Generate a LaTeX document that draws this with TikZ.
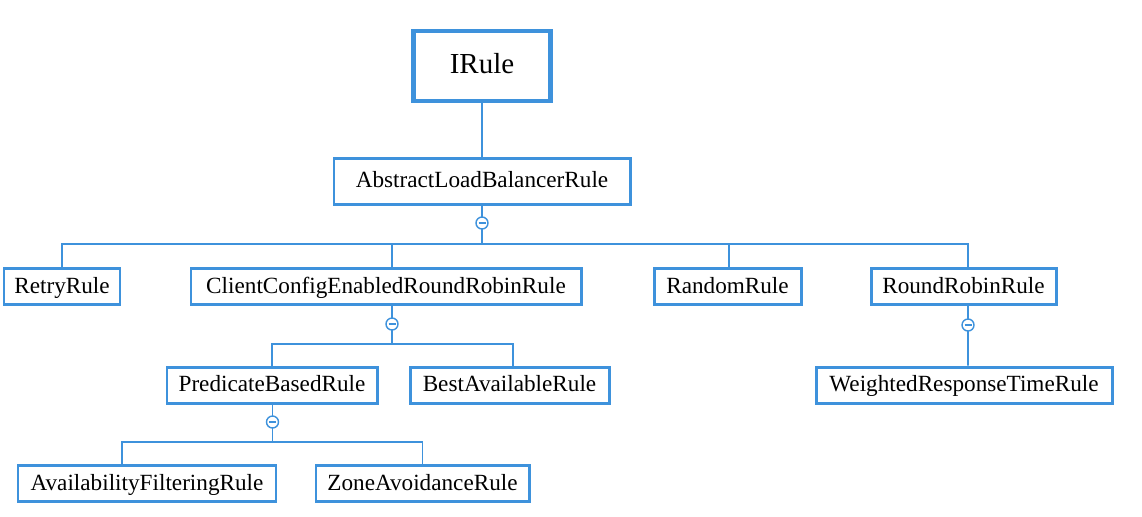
\documentclass[tikz,border=0pt]{standalone}
\usepackage{fontspec}
\setmainfont{Liberation Serif}
\definecolor{ruleblue}{RGB}{62,146,220}

\begin{document}
\begin{tikzpicture}[inner sep=0mm,
  rule/.style={rectangle,draw=ruleblue,line width=1.7pt,fill=white,minimum height=0.72cm,text height=9pt,text depth=1.5pt,font=\fontsize{13.2}{15}\selectfont},
  link/.style={draw=ruleblue,line width=1.1pt},
  fold/.style={circle,draw=ruleblue,fill=white,line width=0.8pt,minimum size=0.24cm,
    path picture={\draw[ruleblue,line width=0.7pt] ([xshift=-0.7mm]path picture bounding box.center) -- ([xshift=0.7mm]path picture bounding box.center);}}]

\useasboundingbox (0,0) rectangle (22.84,-10.32);

\node[rule,line width=2.3pt,minimum width=2.74cm,minimum height=1.4cm,text height=11pt,text depth=2pt,font=\fontsize{16.5}{19}\selectfont] (IR) at (9.64,-1.32) {IRule};
\node[rule,minimum width=5.92cm,minimum height=0.92cm] (ALBR) at (9.64,-3.62) {AbstractLoadBalancerRule};

\node[rule,minimum width=2.32cm] (RTR) at (1.24,-5.73) {RetryRule};
\node[rule,minimum width=7.8cm] (CC) at (7.72,-5.73) {ClientConfigEnabledRoundRobinRule};
\node[rule,minimum width=2.94cm] (RDR) at (14.55,-5.73) {RandomRule};
\node[rule,minimum width=3.7cm] (RoR) at (19.27,-5.73) {RoundRobinRule};

\node[rule,minimum width=4.2cm] (PBR) at (5.44,-7.70) {PredicateBasedRule};
\node[rule,minimum width=3.98cm] (BAR) at (10.19,-7.70) {BestAvailableRule};
\node[rule,minimum width=5.92cm] (WRT) at (19.28,-7.70) {WeightedResponseTimeRule};

\node[rule,minimum width=5.16cm] (AFR) at (2.94,-9.67) {AvailabilityFilteringRule};
\node[rule,minimum width=4.26cm] (ZAR) at (8.45,-9.67) {ZoneAvoidanceRule};

\coordinate (j1) at (9.64,-4.88);
\coordinate (j2) at (7.84,-6.88);
\coordinate (j3) at (5.45,-8.84);

% links
\draw[link] (IR.south) -- (ALBR.north);
\draw[link] (ALBR.south) -- (j1);
\draw[link] (j1) -| (RTR.north);
\draw[link] (j1) -| ([xshift=0.12cm]CC.north);
\draw[link] (j1) -| ([xshift=0.03cm]RDR.north);
\draw[link] (j1) -| ([xshift=0.09cm]RoR.north);

\draw[link] ([xshift=0.12cm]CC.south) -- (j2);
\draw[link] (j2) -| (PBR.north);
\draw[link] (j2) -| ([xshift=0.07cm]BAR.north);
\draw[link] ([xshift=0.09cm]RoR.south) -- ([xshift=0.08cm]WRT.north);

\draw[link] ([xshift=0.01cm]PBR.south) -- (j3);
\draw[link] (j3) -| ([xshift=-0.5cm]AFR.north);
\draw[link] (j3) -| (ZAR.north);

% folds
\node[fold] (f1) at (9.64,-4.46) {};
\node[fold] (f2) at (7.84,-6.48) {};
\node[fold] (f3) at (19.36,-6.50) {};
\node[fold] (f4) at (5.45,-8.44) {};

\end{tikzpicture}
\end{document}
